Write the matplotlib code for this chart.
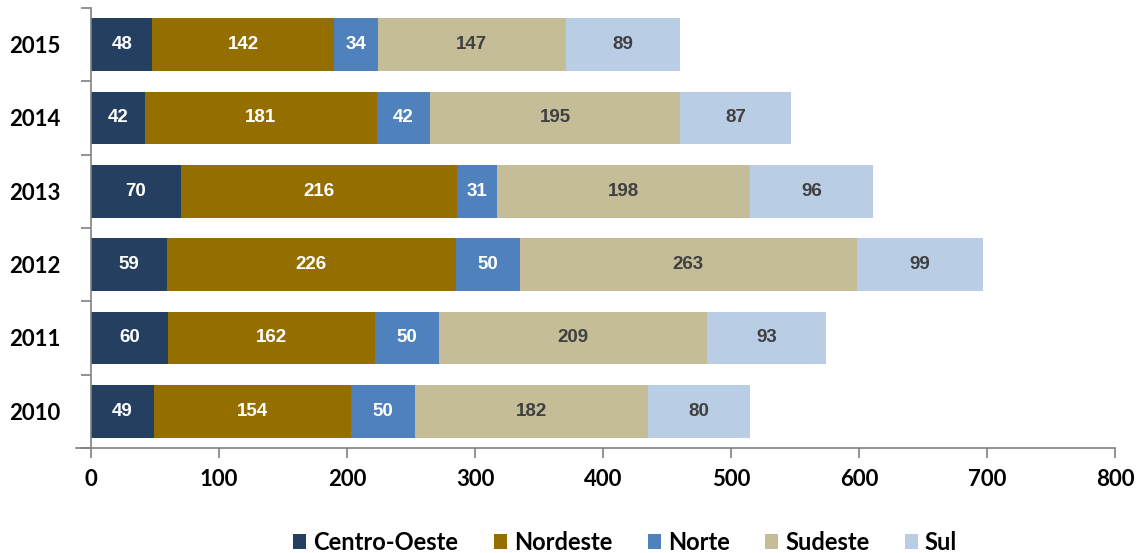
import matplotlib.pyplot as plt
import numpy as np

years = ["2010", "2011", "2012", "2013", "2014", "2015"]
regions = ["Centro-Oeste", "Nordeste", "Norte", "Sudeste", "Sul"]
centro_oeste = [49, 60, 59, 70, 42, 48]
nordeste = [154, 162, 226, 216, 181, 142]
norte = [50, 50, 50, 31, 42, 34]
sudeste = [182, 209, 263, 198, 195, 147]
sul = [80, 93, 99, 96, 87, 89]

colors = ["#243F60", "#946F00", "#4F81BD", "#C4BD97", "#B9CDE5"]
label_colors = ["white", "white", "white", "#404040", "#404040"]

fig = plt.figure(figsize=(11.45, 5.53), dpi=100)
ax = fig.add_axes([0.0795, 0.19, 0.8945, 0.7955])

y = np.arange(len(years))
left = np.zeros(len(years))
for name, vals, c, lc in zip(regions, [centro_oeste, nordeste, norte, sudeste, sul],
                             colors, label_colors):
    bars = ax.barh(y, vals, left=left, height=0.72, color=c, label=name)
    for b, v in zip(bars, vals):
        ax.text(b.get_x() + b.get_width() / 2, b.get_y() + b.get_height() / 2, str(v),
                ha="center", va="center", color=lc, fontsize=13.5, fontweight="bold",
                family="Liberation Sans")
    left += np.array(vals)

ax.set_xlim(0, 800)
ax.set_ylim(-0.5, len(years) - 0.5)
ax.set_xticks(range(0, 801, 100))
ax.set_yticks(y)
ax.set_yticklabels(years)
ax.set_yticks(np.arange(-0.5, len(years), 1), minor=True)
ax.tick_params(axis="y", which="major", length=0, pad=22)
ax.tick_params(axis="y", which="minor", length=7, color="#808080", width=1.2)
ax.tick_params(axis="x", length=7, color="#808080", width=1.2, pad=8)
for lab in ax.get_xticklabels() + ax.get_yticklabels():
    lab.set_fontsize(16)
    lab.set_fontweight("bold")
    lab.set_family("Lato")

for s in ["top", "right"]:
    ax.spines[s].set_visible(False)
ax.spines["left"].set_color("#808080")
ax.spines["bottom"].set_color("#808080")
ax.spines["left"].set_linewidth(1.2)
ax.spines["bottom"].set_linewidth(1.2)
ax.spines["bottom"].set_bounds(-12, 800)

fig.legend(loc="lower center", bbox_to_anchor=(0.546, -0.04), ncol=5, frameon=False,
           prop={"family": "Lato", "weight": "bold", "size": 17},
           handlelength=0.55, handleheight=0.55, handletextpad=0.3, columnspacing=1.5)

fig.savefig("out.png", dpi=100)
